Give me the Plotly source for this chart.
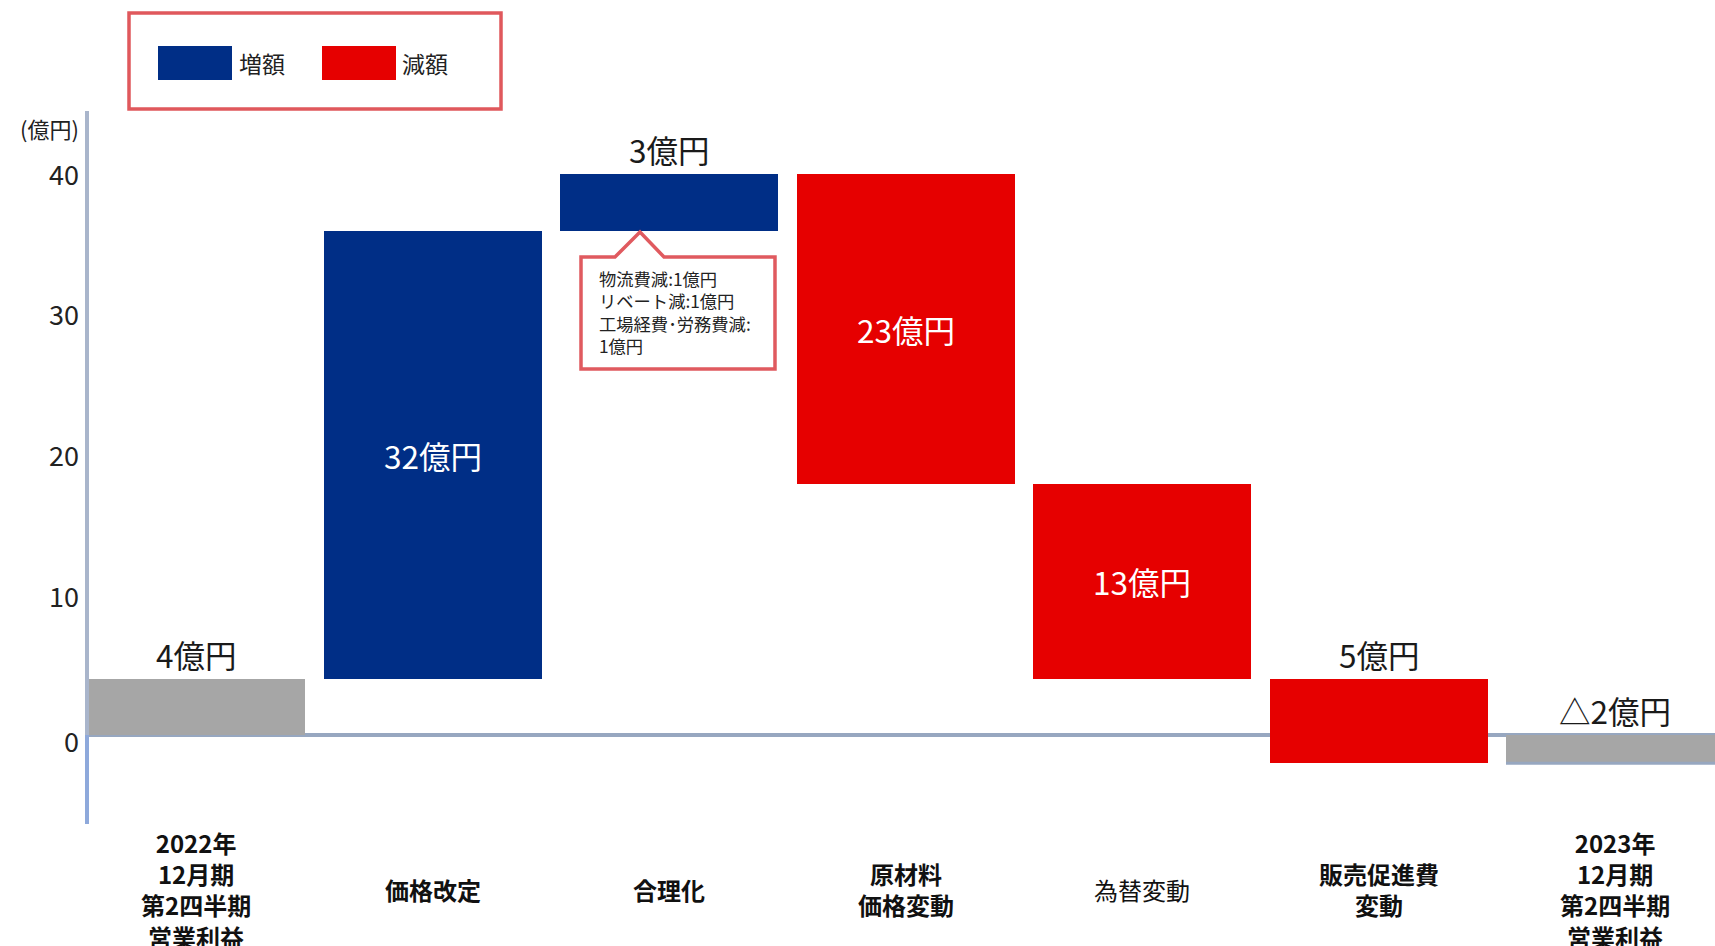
import plotly.graph_objects as go

# ---------------- data ----------------
categories = [
    "2022年<br>12月期<br>第2四半期<br>営業利益",
    "価格改定",
    "合理化",
    "原材料<br>価格変動",
    "為替変動",
    "販売促進費<br>変動",
    "2023年<br>12月期<br>第2四半期<br>営業利益",
]
bar_start = [0.0, 4.0, 35.9, 39.9, 17.9, 4.0, 0.0]
bar_end = [4.0, 35.9, 39.9, 17.9, 4.0, -2.0, -2.0]
label_values = ["4", "32", "3", "23", "13", "5", "△2"]
bar_kind = ["total", "increase", "increase", "decrease", "decrease", "decrease", "total"]
y_ticks = [0, 10, 20, 30, 40]
legend_labels = ["増額", "減額"]
callout_lines = ["物流費減:1億円", "リベート減:1億円", "工場経費･労務費減:", "1億円"]

# ---------------- style ----------------
FONT = "Noto Sans CJK JP"
COLORS = {"total": "#A6A6A6", "increase": "#002E86", "decrease": "#E60000"}
label_pos = ["above", "inside", "above", "inside", "inside", "above", "above"]
bold_cat = [True, True, True, True, False, True, True]

W, H = 1715, 946
L, R, T, B = 87, 0, 111, 122
PW, PH = W - L - R, H - T - B


def px(x):
    return (x - L) / PW


def py(y):
    return (H - B - y) / PH


xs = list(range(len(categories)))
fig = go.Figure()
fig.add_trace(go.Bar(
    x=xs,
    y=[e - s for s, e in zip(bar_start, bar_end)],
    base=bar_start,
    width=0.922,
    marker=dict(color=[COLORS[k] for k in bar_kind], line=dict(width=0)),
    hoverinfo="skip",
    showlegend=False,
))

annotations = []
# value labels
for i, (s, e, v) in enumerate(zip(bar_start, bar_end, label_values)):
    txt = f"{v}億円"
    if label_pos[i] == "inside":
        annotations.append(dict(x=i, y=(s + e) / 2, xref="x", yref="y", text=txt,
                                showarrow=False, yanchor="middle",
                                font=dict(family=FONT, size=31.5, color="white")))
    else:
        annotations.append(dict(x=i, y=max(s, e, 0), xref="x", yref="y", text=txt,
                                showarrow=False, yanchor="bottom", yshift=0,
                                font=dict(family=FONT, size=31.5, color="#1a1a1a")))

# category labels (vertically centered blocks)
CY = 889
for i, c in enumerate(categories):
    t = "<br>".join(f"<b>{ln}</b>" if bold_cat[i] else ln for ln in c.split("<br>"))
    annotations.append(dict(x=i, y=py(CY), xref="x", yref="paper", text=t,
                            showarrow=False, yanchor="middle", xanchor="center",
                            align="center",
                            font=dict(family=FONT, size=24, color="#111")))

# y tick labels
for v in y_ticks:
    annotations.append(dict(x=px(81), y=v, xref="paper", yref="y", text=str(v),
                            showarrow=False, xanchor="right", yanchor="middle",
                            yshift=-5 if v == 0 else -0.5,
                            font=dict(family=FONT, size=27, color="#222")))

# unit label
annotations.append(dict(x=px(81), y=py(128), xref="paper", yref="paper", text="(億円)",
                        showarrow=False, xanchor="right", yanchor="middle",
                        font=dict(family=FONT, size=22, color="#222")))

# legend texts
for xt, lab in zip([237, 400], legend_labels):
    annotations.append(dict(x=px(xt), y=py(63), xref="paper", yref="paper", text=lab,
                            showarrow=False, xanchor="left", yanchor="middle",
                            font=dict(family=FONT, size=23, color="#222")))

# callout text
annotations.append(dict(x=px(597), y=py(311.5), xref="paper", yref="paper",
                        text="<br>".join(callout_lines), align="left",
                        showarrow=False, xanchor="left", yanchor="middle",
                        font=dict(family=FONT, size=17.3, color="#222")))

shapes = []
# y axis line (two tones)
shapes.append(dict(type="line", xref="paper", yref="paper", x0=0, x1=0, y0=py(735), y1=1,
                   line=dict(color="#A9B5CB", width=4), layer="above"))
shapes.append(dict(type="line", xref="paper", yref="paper", x0=0, x1=0, y0=0, y1=py(735),
                   line=dict(color="#8EA9DB", width=4), layer="above"))
# bottom edge of final bar
last = len(categories) - 1
shapes.append(dict(type="line", xref="x", yref="y", x0=last - 0.461, x1=last + 0.461,
                   y0=bar_end[last], y1=bar_end[last],
                   line=dict(color="#97A7C0", width=3), layer="above"))
# legend box
shapes.append(dict(type="rect", xref="paper", yref="paper", x0=px(129), x1=px(501),
                   y0=py(109), y1=py(13), line=dict(color="#E0585C", width=3.5),
                   fillcolor="rgba(0,0,0,0)"))
for (x0, x1), col in zip([(158, 232), (322, 396)], [COLORS["increase"], COLORS["decrease"]]):
    shapes.append(dict(type="rect", xref="paper", yref="paper", x0=px(x0), x1=px(x1),
                       y0=py(80), y1=py(46), line=dict(width=0), fillcolor=col))
# callout
pts = [(581, 257), (615, 257), (640, 232), (664, 257), (775, 257), (775, 369), (581, 369)]
path = "M " + " L ".join(f"{px(a):.5f},{py(b):.5f}" for a, b in pts) + " Z"
shapes.append(dict(type="path", xref="paper", yref="paper", path=path,
                   line=dict(color="#E05A5F", width=3.5), fillcolor="white"))

fig.update_layout(
    width=W, height=H,
    margin=dict(l=L, r=R, t=T, b=B, pad=0),
    paper_bgcolor="white", plot_bgcolor="white",
    bargap=0,
    xaxis=dict(range=[-0.463, 6.423], showticklabels=False, showgrid=False,
               zeroline=False, showline=False, fixedrange=True),
    yaxis=dict(range=[-6.33, 44.41], tickvals=y_ticks, showticklabels=False,
               showgrid=False, zeroline=True, zerolinecolor="#97A7C0", zerolinewidth=3.5,
               showline=False, ticks="", fixedrange=True),
    annotations=annotations,
    shapes=shapes,
    font=dict(family=FONT),
)

fig.write_html("out.html", config={"displayModeBar": False})
